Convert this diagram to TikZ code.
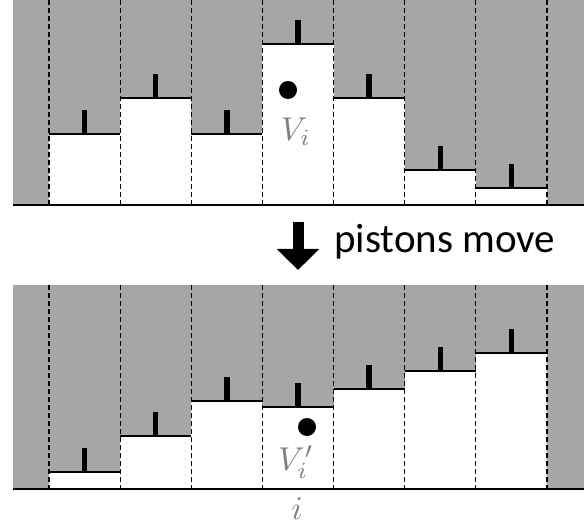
\documentclass[tikz,border=0pt]{standalone}
\usepackage{fontspec}
\newfontfamily\captionfont{Carlito}
\usetikzlibrary{positioning}
\usetikzlibrary{arrows.meta}

\definecolor{wallgray}{HTML}{A6A6A6}
\definecolor{labelgray}{HTML}{808080}

\begin{document}
\begin{tikzpicture}[x=1pt,y=-1pt,
    divider/.style={dash pattern=on 5pt off 3pt,line width=1.2pt},
    pistonhead/.style={line width=2.8pt},
    pistonrod/.style={line width=5.5pt},
    floorline/.style={line width=2pt},
    marker/.style={circle,fill=black,inner sep=0pt,minimum size=18pt},
    volume/.style={text=labelgray,inner sep=0pt,scale=3.3},
    movearrow/.style={line width=11pt,-{Triangle[length=21pt,width=41pt]}}]
  \useasboundingbox (0,0) rectangle (588,526);
  %
  % top panel: pistons before
  \fill[wallgray] (13,0) rectangle (584,205);
  \foreach \h [count=\k] in {134,98,134,44,98,170,188} {
    \fill[white] ({49+71.14*(\k-1)},\h) rectangle ({49+71.14*\k},205);
    \draw[pistonhead] ({49+71.14*(\k-1)},\h) -- ({49+71.14*\k},\h);
    \draw[pistonrod] ({49+71.14*(\k-0.5)},\h) -- ({49+71.14*(\k-0.5)},\h-24);
  }
  \foreach \k in {0,...,7}
    \draw[divider] ({49+71.14*\k},0) -- ({49+71.14*\k},205);
  \draw[floorline] (13,205) -- (584,205);
  \node[marker] (dotbefore) at (288,90) {};
  \node[volume,anchor=base] (vbefore) at (296,141) {$V_i$};
  %
  % arrow and caption
  \coordinate (arrowtail) at (298,222);
  \coordinate (arrowtip) at (298,270);
  \draw[movearrow] (arrowtail) -- (arrowtip);
  \node[anchor=base west,inner sep=0pt,font=\captionfont\fontsize{41}{41}\selectfont]
    (caption) at (334,253) {pistons move};
  %
  % bottom panel: pistons after
  \fill[wallgray] (13,285) rectangle (584,489);
  \foreach \h [count=\k] in {472,436,401,407,389,371,353} {
    \fill[white] ({49+71.14*(\k-1)},\h) rectangle ({49+71.14*\k},489);
    \draw[pistonhead] ({49+71.14*(\k-1)},\h) -- ({49+71.14*\k},\h);
    \draw[pistonrod] ({49+71.14*(\k-0.5)},\h) -- ({49+71.14*(\k-0.5)},\h-24);
  }
  \foreach \k in {0,...,7}
    \draw[divider] ({49+71.14*\k},285) -- ({49+71.14*\k},489);
  \draw[floorline] (13,489) -- (584,489);
  \node[marker] (dotafter) at (307,427) {};
  \node[volume,anchor=base] (vafter) at (296,470) {$V_i'$};
  \node[volume,anchor=base] (index) at (297,519) {$i$};
\end{tikzpicture}
\end{document}
